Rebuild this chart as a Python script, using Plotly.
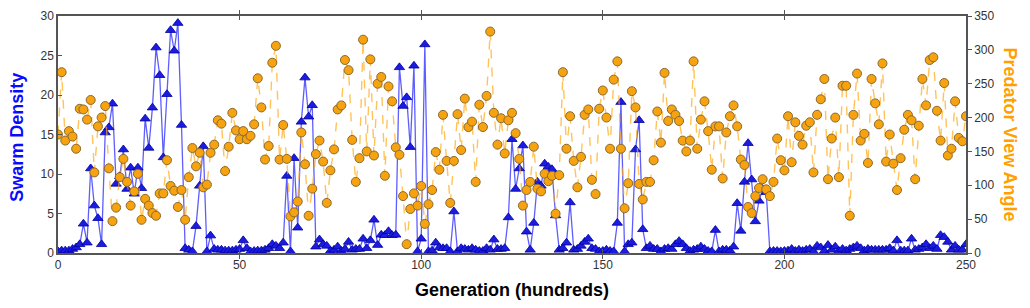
import plotly.graph_objects as go

generations = list(range(0, 251))

swarm_density = [
    0.2, 0.3, 0.3, 0.3, 0.5, 0.7, 1.1, 3.7, 1.3, 10.7,
    6.0, 4.4, 1.1, 15.25, 15.9, 18.9, 8.75, 9.7, 13.1, 8.1,
    10.8, 7.5, 10.8, 8.2, 17.0, 13.3, 18.4, 26.0, 22.5, 12.1,
    20.1, 28.2, 25.6, 29.1, 16.2, 0.6, 0.4, 0.2, 3.4, 8.5,
    13.5, 0.2, 2.2, 0.5, 0.4, 0.4, 0.3, 0.3, 0.3, 0.4,
    0.5, 1.6, 0.6, 0.2, 0.25, 0.3, 0.3, 0.4, 0.6, 1.1,
    0.9, 0.6, 1.3, 9.75, 0.2, 12.0, 3.2, 16.6, 22.2, 17.25,
    18.7, 0.8, 1.7, 1.1, 0.9, 0.25, 0.4, 0.8, 0.25, 0.5,
    1.4, 0.4, 0.5, 0.5, 1.8, 0.6, 1.6, 4.2, 1.0, 2.3,
    2.25, 2.75, 2.25, 2.3, 23.5, 18.6, 19.7, 13.4, 23.7, 0.2,
    1.8, 26.4, 0.2, 0.3, 1.3, 0.7, 0.6, 0.6, 0.2, 5.25,
    0.2, 0.6, 0.5, 0.4, 0.6, 0.4, 0.25, 0.25, 0.6, 0.4,
    1.7, 0.5, 0.5, 0.6, 4.5, 14.4, 8.1, 10.7, 13.6, 2.7,
    0.4, 3.8, 9.0, 8.5, 11.3, 10.9, 10.6, 4.75, 0.4, 0.6,
    1.3, 6.4, 0.4, 0.5, 0.9, 1.4, 1.8, 0.6, 0.5, 0.2,
    0.25, 0.4, 0.25, 0.2, 3.8, 19.1, 0.2, 1.1, 1.3, 13.1,
    16.8, 3.0, 0.6, 0.9, 0.5, 0.5, 0.2, 0.5, 0.6, 0.5,
    1.1, 1.5, 1.1, 0.6, 0.25, 0.4, 0.5, 0.8, 0.5, 0.25,
    0.2, 2.9, 0.2, 0.4, 0.4, 0.3, 0.8, 6.3, 2.8, 9.0,
    13.9, 9.3, 4.0, 6.6, 8.1, 7.7, 0.2, 0.25, 0.25, 0.2,
    0.25, 0.3, 0.5, 0.25, 0.4, 0.25, 0.4, 0.5, 0.2, 0.9,
    0.7, 0.25, 1.0, 0.4, 0.8, 0.25, 0.5, 0.3, 0.5, 0.7,
    0.9, 0.6, 0.3, 0.5, 0.4, 0.4, 0.4, 0.4, 0.4, 0.6,
    0.3, 1.6, 0.3, 0.3, 0.3, 1.8, 0.4, 0.5, 0.7, 1.1,
    0.6, 0.9, 0.5, 2.25, 2.0, 1.4, 0.4, 0.9, 0.4, 0.4,
    1.1,
]

predator_view_angle = [
    175, 267, 166, 180, 172, 154, 213, 212, 197, 226,
    119, 187, 200, 217, 125, 47, 67, 112, 139, 105,
    70, 91, 117, 49, 80, 70, 59, 55, 88, 88,
    137, 99, 92, 68, 93, 49, 112, 155, 128, 148,
    97, 101, 148, 160, 196, 191, 121, 157, 207, 181,
    168, 180, 168, 173, 190, 258, 215, 138, 158, 281,
    306, 138, 189, 139, 54, 60, 76, 178, 131, 55,
    95, 146, 166, 135, 74, 122, 153, 212, 218, 285,
    270, 167, 105, 140, 315, 150, 286, 144, 250, 260,
    114, 246, 224, 156, 145, 84, 13, 65, 88, 70,
    99, 43, 72, 93, 149, 123, 204, 136, 74, 136,
    205, 152, 228, 186, 194, 105, 219, 186, 232, 327,
    207, 160, 199, 147, 196, 207, 177, 139, 70, 93,
    105, 157, 95, 91, 117, 106, 114, 58, 115, 267,
    154, 202, 136, 97, 142, 204, 212, 108, 87, 213,
    240, 200, 154, 256, 283, 154, 66, 103, 239, 215,
    102, 79, 105, 105, 137, 209, 163, 266, 195, 212,
    204, 195, 166, 150, 166, 283, 154, 197, 224, 180,
    123, 187, 187, 110, 178, 202, 218, 187, 138, 130,
    68, 59, 84, 96, 109, 94, 84, 105, 169, 137,
    122, 202, 134, 193, 173, 160, 188, 193, 119, 204,
    227, 257, 109, 169, 200, 112, 247, 247, 55, 204,
    265, 166, 176, 133, 257, 221, 190, 280, 135, 175,
    132, 93, 140, 182, 204, 196, 109, 188, 257, 218,
    285, 289, 210, 166, 251, 144, 154, 224, 170, 165,
    202,
]

x_ticks = [0, 50, 100, 150, 200, 250]
y_left_ticks = [0, 5, 10, 15, 20, 25, 30]
y_right_ticks = [0, 50, 100, 150, 200, 250, 300, 350]

FONT = "Liberation Sans, Arial, sans-serif"
TICKFONT = dict(family=FONT, size=12, color="#333333")

fig = go.Figure()

fig.add_trace(go.Scatter(
    x=generations, y=swarm_density, mode="lines+markers",
    line=dict(color="rgba(40,40,255,0.75)", width=1.3),
    marker=dict(symbol="triangle-up", size=9, color="#1c1ce0",
                line=dict(color="#0000a0", width=0.8)),
    yaxis="y", showlegend=False,
))

fig.add_trace(go.Scatter(
    x=generations, y=predator_view_angle, mode="lines+markers",
    line=dict(color="rgba(255,170,20,0.7)", width=1.4, dash="dash"),
    marker=dict(symbol="circle", size=9, color="#f7a20f",
                line=dict(color="#8a6a30", width=1)),
    yaxis="y2", showlegend=False,
))

# page body has an 8px margin, so the figure is shrunk by 8px and margins shifted
fig.update_layout(
    width=1022, height=300,
    margin=dict(l=50, r=64, t=8, b=55),
    paper_bgcolor="white", plot_bgcolor="white",
    xaxis=dict(
        range=[0, 250], tickvals=x_ticks, ticktext=[str(v) for v in x_ticks],
        showgrid=False, zeroline=False, showline=True, linecolor="#555555",
        linewidth=1.5, mirror="allticks", ticks="inside", ticklen=4,
        tickcolor="#555555", tickfont=TICKFONT, automargin=False,
        ticklabeloverflow="allow",
    ),
    yaxis=dict(
        range=[0, 30], tickvals=y_left_ticks, ticktext=[str(v) for v in y_left_ticks],
        showgrid=False, zeroline=False, showline=True, linecolor="#555555",
        linewidth=1.5, ticks="inside", ticklen=4, tickcolor="#555555",
        tickfont=TICKFONT, automargin=False, ticklabeloverflow="allow",
    ),
    yaxis2=dict(
        range=[0, 350], tickvals=y_right_ticks, ticktext=[str(v) for v in y_right_ticks],
        overlaying="y", side="right", showgrid=False, zeroline=False,
        showline=True, linecolor="#555555", linewidth=1.5, ticks="outside",
        ticklen=4, tickcolor="#555555", tickfont=TICKFONT, automargin=False,
        ticklabeloverflow="allow",
    ),
    annotations=[
        dict(text="<b>Generation (hundreds)</b>", xref="paper", yref="paper",
             x=0.5, y=-0.156, xanchor="center", yanchor="middle", showarrow=False,
             font=dict(family=FONT, size=18, color="black")),
        dict(text="<b>Swarm Density</b>", xref="paper", yref="paper",
             x=-0.0452, y=0.49, xanchor="center", yanchor="middle",
             showarrow=False, textangle=-90,
             font=dict(family=FONT, size=18, color="#0a0aff")),
        dict(text="<b>Predator View Angle</b>", xref="paper", yref="paper",
             x=1.0485, y=0.5, xanchor="center", yanchor="middle",
             showarrow=False, textangle=90,
             font=dict(family=FONT, size=18, color="#ffa000")),
    ],
)

fig.write_html("out.html")
